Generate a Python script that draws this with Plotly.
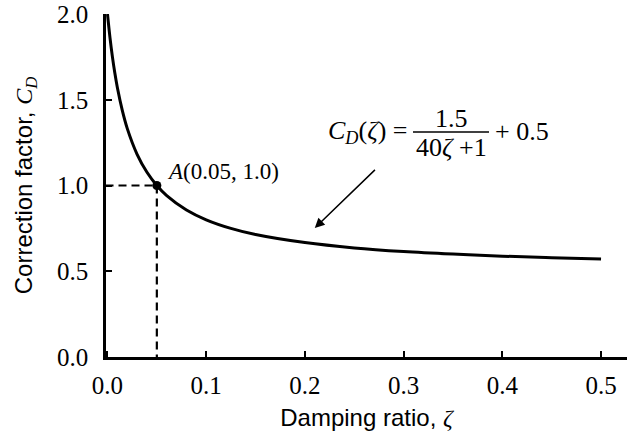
import plotly.graph_objects as go

# Values
zeta = [0.0, 0.0025, 0.005, 0.0075, 0.01, 0.015, 0.02, 0.03, 0.04, 0.05, 0.06, 0.08,
        0.10, 0.125, 0.15, 0.20, 0.25, 0.30, 0.35, 0.40, 0.45, 0.50]
cd = [2.0, 1.864, 1.75, 1.654, 1.571, 1.4375, 1.333, 1.182, 1.077, 1.0, 0.941, 0.857,
      0.80, 0.75, 0.714, 0.667, 0.636, 0.615, 0.60, 0.588, 0.579, 0.571]
point_a = (0.05, 1.0)
x_ticks = [0.0, 0.1, 0.2, 0.3, 0.4, 0.5]
y_ticks = [0.0, 0.5, 1.0, 1.5, 2.0]

serif = "Liberation Serif, Times New Roman, serif"
sans = "Liberation Sans, Arial, sans-serif"

fig = go.Figure()
fig.add_trace(go.Scatter(x=zeta, y=cd, mode="lines", line=dict(color="black", width=3, shape="spline"),
                         hoverinfo="skip"))
# dashed guides to point A
fig.add_trace(go.Scatter(x=[-0.002, point_a[0]], y=[point_a[1], point_a[1]], mode="lines",
                         line=dict(color="black", width=2.2, dash="8px,5px"), hoverinfo="skip"))
fig.add_trace(go.Scatter(x=[point_a[0], point_a[0]], y=[point_a[1], 0], mode="lines",
                         line=dict(color="black", width=2.2, dash="8px,5px"), hoverinfo="skip"))
fig.add_trace(go.Scatter(x=[point_a[0]], y=[point_a[1]], mode="markers",
                         marker=dict(color="black", size=9)))

ann = []
ann.append(dict(x=0.0583, y=1.079, xref="x", yref="y", xanchor="left", yanchor="middle", showarrow=False,
                text="<i>A</i>(0.05, 1.0)", font=dict(family=serif, size=23, color="black")))
ann.append(dict(x=0.3065, y=1.312, xref="x", yref="y", xanchor="right", yanchor="middle", showarrow=False,
                text="<i>C</i><sub><i>D</i></sub>(<i>ζ</i>) =", font=dict(family=serif, size=26, color="black")))
ann.append(dict(x=0.348, y=1.39, xref="x", yref="y", xanchor="center", yanchor="middle", showarrow=False,
                text="1.5", font=dict(family=serif, size=26, color="black")))
ann.append(dict(x=0.348, y=1.22, xref="x", yref="y", xanchor="center", yanchor="middle", showarrow=False,
                text="40<i>ζ</i> +1", font=dict(family=serif, size=26, color="black")))
ann.append(dict(x=0.3906, y=1.312, xref="x", yref="y", xanchor="left", yanchor="middle", showarrow=False,
                text="+ 0.5", font=dict(family=serif, size=26, color="black")))
ann.append(dict(x=0.210, y=0.752, xref="x", yref="y", ax=0.274, ay=1.108, axref="x", ayref="y",
                showarrow=True, arrowhead=2, arrowsize=1.3, arrowwidth=1.5, arrowcolor="black", text=" "))

fig.add_shape(type="line", x0=0.3095, x1=0.3865, y0=1.312, y1=1.312, xref="x", yref="y",
              line=dict(color="black", width=1.5))

fig.update_layout(
    width=627, height=434,
    margin=dict(l=106, r=0, t=14, b=77, autoexpand=False),
    paper_bgcolor="white", plot_bgcolor="white",
    showlegend=False,
    annotations=ann,
    xaxis=dict(range=[-0.0015, 0.5263], tickvals=x_ticks, ticktext=[f"{v:.1f}" for v in x_ticks],
               ticks="inside", ticklen=6, tickwidth=1.5, tickcolor="black", automargin=False,
               showline=True, linecolor="black", linewidth=2.5, showgrid=False, zeroline=False,
               tickfont=dict(family=serif, size=25, color="black"), ticklabelstandoff=4,
               ticklabeloverflow="allow",
               title=dict(text="Damping ratio, <span style='font-family:Liberation Serif'><i>ζ</i></span>",
                          font=dict(family=sans, size=24, color="black"), standoff=12)),
    yaxis=dict(range=[0, 2.0], tickvals=y_ticks, ticktext=[f"{v:.1f}" for v in y_ticks],
               ticks="inside", ticklen=6, tickwidth=1.5, tickcolor="black", automargin=False,
               showline=True, linecolor="black", linewidth=2.5, showgrid=False, zeroline=False,
               tickfont=dict(family=serif, size=25, color="black"), ticklabelstandoff=10,
               ticklabeloverflow="allow",
               title=dict(text="Correction factor, <span style='font-family:Liberation Serif'><i>C</i><sub><i>D</i></sub></span>",
                          font=dict(family=sans, size=24, color="black"), standoff=18)),
)

fig.write_html("out.html", config={"displayModeBar": False},
               post_script="document.body.style.margin='0';")
